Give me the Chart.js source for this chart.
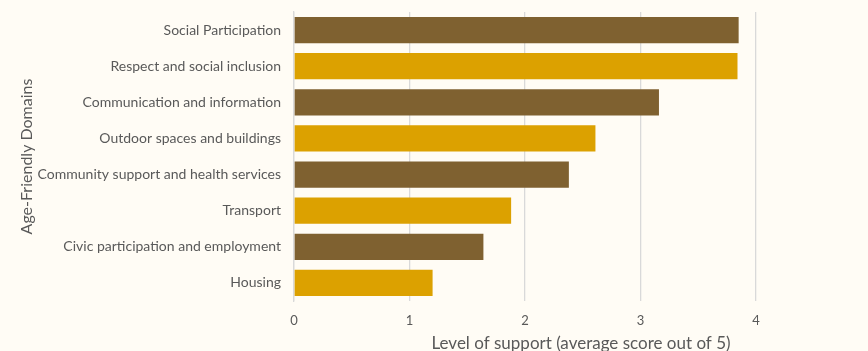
<!DOCTYPE html>
<html>
<head>
<meta charset="utf-8">
<script src="https://cdn.jsdelivr.net/npm/chart.js@4"></script>
<style>
  html, body { margin: 0; padding: 0; background: #fffcf5; overflow: hidden; }
  #wrap { position: relative; width: 868px; height: 351px; }
</style>
</head>
<body>
<div id="wrap"><canvas id="grafic"></canvas></div>
<script>
// domains, top to bottom
const dominis = [
  'Social Participation',
  'Respect and social inclusion',
  'Communication and information',
  'Outdoor spaces and buildings',
  'Community support and health services',
  'Transport',
  'Civic participation and employment',
  'Housing'
];
// average score out of 5
const puntuacions = [3.85, 3.84, 3.16, 2.61, 2.38, 1.88, 1.64, 1.20];
const colorsBarres = ['#7f6130', '#dca100', '#7f6130', '#dca100', '#7f6130', '#dca100', '#7f6130', '#dca100'];
const marques = [0, 1, 2, 3, 4];

const textGris = '#595959';
const font = 'Lato, "Open Sans", sans-serif';

new Chart(document.getElementById('grafic'), {
  type: 'bar',
  data: {
    labels: dominis,
    datasets: [{
      data: puntuacions,
      backgroundColor: colorsBarres,
      barPercentage: 0.73,
      categoryPercentage: 1.0
    }]
  },
  options: {
    indexAxis: 'y',
    responsive: true,
    maintainAspectRatio: false,
    animation: false,
    layout: { padding: { top: 12, right: 0, left: 17, bottom: 0 } },
    plugins: { legend: { display: false }, tooltip: { enabled: false } },
    scales: {
      x: {
        min: 0,
        max: 4.97,
        afterBuildTicks: axis => { axis.ticks = marques.map(v => ({ value: v })); },
        afterFit: axis => { axis.height = 50; axis.paddingLeft = 0; axis.paddingRight = 0; },
        grid: { color: '#d9d9d9', lineWidth: 1.3, drawTicks: false },
        border: { display: false },
        ticks: { color: textGris, font: { family: font, size: 13 }, padding: 12 },
        title: {
          display: true,
          text: 'Level of support (average score out of 5)',
          color: textGris,
          font: { family: font, size: 17 },
          padding: { top: 5, bottom: -3 }
        }
      },
      y: {
        afterFit: axis => { axis.width = 294 - 17; axis.paddingTop = 0; axis.paddingBottom = 0; },
        grid: { display: false },
        border: { display: true, color: '#d9d9d9', width: 1.3 },
        ticks: { color: textGris, font: { family: font, size: 14 }, padding: 5 },
        title: {
          display: true,
          text: 'Age-Friendly Domains',
          color: textGris,
          font: { family: font, size: 16 },
          padding: { top: 0, bottom: 0 }
        }
      }
    }
  }
});
</script>
</body>
</html>
